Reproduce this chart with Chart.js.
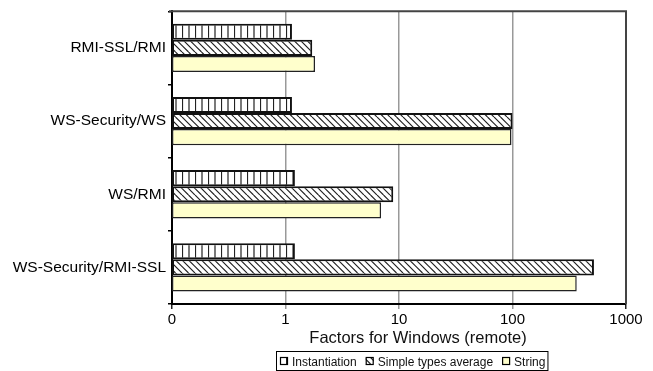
<!DOCTYPE html>
<html>
<head>
<meta charset="utf-8">
<script src="https://cdn.jsdelivr.net/npm/chart.js@4/dist/chart.umd.min.js"></script>
<style>
  html, body { margin: 0; padding: 0; background: #fff; }
  #wrap { width: 653px; height: 371px; }
</style>
</head>
<body>
<div id="wrap"><canvas id="c" width="653" height="371"></canvas></div>
<script>
// Ratios of remote call cost, Windows
const categories = ['RMI-SSL/RMI', 'WS-Security/WS', 'WS/RMI', 'WS-Security/RMI-SSL'];
const seriesNames = ['Instantiation', 'Simple types average', 'String'];
const instantiation = [1.14, 1.14, 1.21, 1.21];
const simpleTypesAverage = [1.72, 100, 8.9, 522];
const stringValues = [1.82, 98, 6.95, 368];
const tickValues = [0.1, 1, 10, 100, 1000];
const tickLabels = ['0', '1', '10', '100', '1000'];
const axisTitle = 'Factors for Windows (remote)';

const FONT = '"Liberation Sans", Arial, sans-serif';

// Hatch fills
function makePattern(draw) {
  const t = document.createElement('canvas');
  t.width = 13; t.height = 13;
  const g = t.getContext('2d');
  g.fillStyle = '#fff';
  g.fillRect(0, 0, 13, 13);
  g.strokeStyle = '#222';
  g.lineWidth = 1.2;
  draw(g);
  return document.getElementById('c').getContext('2d').createPattern(t, 'repeat');
}
const verticalHatch = makePattern(g => {
  g.beginPath();
  g.moveTo(0.5, 0); g.lineTo(0.5, 13);
  g.moveTo(7, 0); g.lineTo(7, 13);
  g.stroke();
});
const diagonalHatch = makePattern(g => {
  g.beginPath();
  for (let c = -13; c <= 13; c += 6.5) {
    g.moveTo(c, 0); g.lineTo(c + 13, 13);
  }
  g.stroke();
});
const stringFill = '#FFFFCC';

// Frame on top/right of the plot area
const framePlugin = {
  id: 'frame',
  beforeDatasetsDraw(chart) {
    const { ctx, chartArea: a } = chart;
    ctx.save();
    ctx.strokeStyle = '#444';
    ctx.lineWidth = 2;
    ctx.beginPath();
    ctx.moveTo(a.left - 3, a.top);
    ctx.lineTo(a.right, a.top);
    ctx.lineTo(a.right, a.bottom);
    ctx.stroke();
    ctx.restore();
  }
};

// Axis title and boxed legend under the x axis
const bottomTextPlugin = {
  id: 'bottomText',
  afterDraw(chart) {
    const ctx = chart.ctx;
    ctx.save();
    ctx.fillStyle = '#111';
    ctx.font = '16.5px ' + FONT;
    ctx.textAlign = 'center';
    ctx.textBaseline = 'alphabetic';
    ctx.fillText(axisTitle, 418, 343);

    // legend
    ctx.font = '12px ' + FONT;
    ctx.textAlign = 'left';
    const ds = chart.data.datasets;
    const sw = 8, gapText = 4, gapItem = 9, pad = 3;
    let total = pad * 2;
    ds.forEach((d, i) => {
      total += sw + gapText + ctx.measureText(d.label).width + (i < ds.length - 1 ? gapItem : 0);
    });
    const left = 276, top = 351, h = 19;
    ctx.strokeStyle = '#000';
    ctx.lineWidth = 1;
    ctx.strokeRect(left + 0.5, top + 0.5, total, h);
    let x = left + pad + 1;
    const cy = top + h / 2 + 0.5;
    ds.forEach((d, i) => {
      ctx.fillStyle = d.backgroundColor;
      ctx.fillRect(x, cy - 4, sw, sw);
      ctx.strokeStyle = '#000';
      ctx.lineWidth = 1.2;
      ctx.strokeRect(x + 0.5, cy - 3.5, sw - 1, sw - 1);
      x += sw + gapText;
      ctx.fillStyle = '#111';
      ctx.fillText(d.label, x, cy + 4.5);
      x += ctx.measureText(d.label).width + gapItem;
    });
    ctx.restore();
  }
};

new Chart(document.getElementById('c'), {
  type: 'bar',
  data: {
    labels: categories,
    datasets: [
      { label: seriesNames[0], data: instantiation, backgroundColor: verticalHatch, borderColor: '#111', borderWidth: 2 },
      { label: seriesNames[1], data: simpleTypesAverage, backgroundColor: diagonalHatch, borderColor: '#111', borderWidth: 2 },
      { label: seriesNames[2], data: stringValues, backgroundColor: stringFill, borderColor: '#222', borderWidth: 1.5 }
    ]
  },
  options: {
    indexAxis: 'y',
    responsive: false,
    devicePixelRatio: 1,
    animation: false,
    layout: { padding: { top: 10, right: 27, left: 0, bottom: 0 } },
    datasets: {
      bar: { categoryPercentage: 0.66, barPercentage: 1.0, borderSkipped: false }
    },
    plugins: {
      legend: { display: false },
      tooltip: { enabled: false }
    },
    scales: {
      x: {
        type: 'logarithmic',
        min: tickValues[0],
        max: tickValues[tickValues.length - 1],
        afterBuildTicks(scale) {
          scale.ticks = tickValues.map(v => ({ value: v }));
        },
        afterFit(scale) { scale.height = 67; },
        ticks: {
          autoSkip: false,
          maxRotation: 0,
          padding: 2,
          color: '#000',
          font: { family: FONT, size: 15 },
          callback(value) {
            const i = tickValues.indexOf(value);
            return i >= 0 ? tickLabels[i] : '';
          }
        },
        grid: {
          color: ctx => (ctx.tick && (ctx.tick.value === 1000 || ctx.tick.value === 0.1)) ? '#222' : '#999',
          lineWidth: 1.5,
          tickLength: 5,
          drawTicks: true
        },
        border: { color: '#000', width: 2 }
      },
      y: {
        afterFit(scale) { scale.width = 172; },
        ticks: {
          color: '#000',
          padding: 2,
          font: { family: FONT, size: 15.5 }
        },
        grid: {
          drawOnChartArea: false,
          drawTicks: true,
          tickLength: 4,
          color: '#000',
          lineWidth: 1.5
        },
        border: { color: '#000', width: 2 }
      }
    }
  },
  plugins: [framePlugin, bottomTextPlugin]
});
</script>
</body>
</html>
